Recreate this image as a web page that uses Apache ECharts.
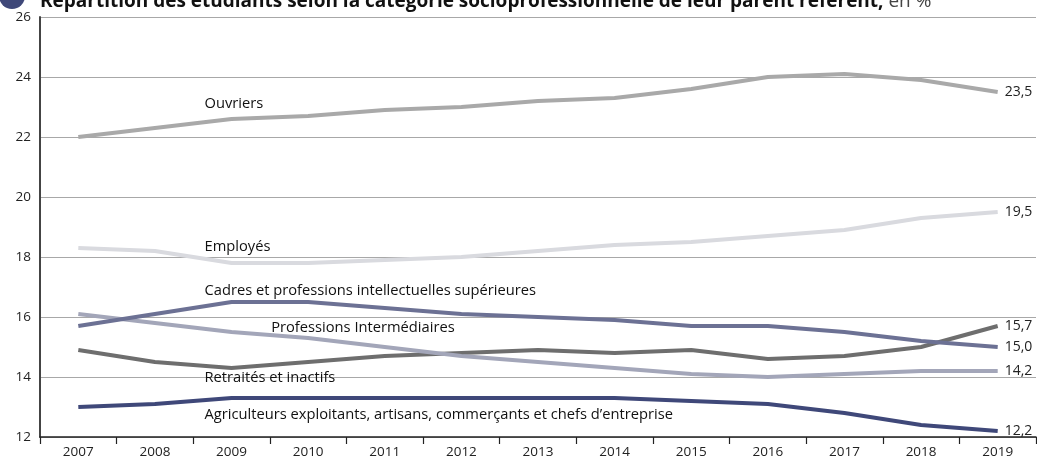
<!DOCTYPE html>
<html><head><meta charset="utf-8">
<script src="https://cdn.jsdelivr.net/npm/echarts@6/dist/echarts.min.js"></script>
<style>html,body{margin:0;padding:0;background:#fff}#c{width:1037px;height:462px}</style>
</head><body><div id="c"></div>
<script>
const years = ['2007','2008','2009','2010','2011','2012','2013','2014','2015','2016','2017','2018','2019'];
const ouvriers      = [22.0,22.3,22.6,22.7,22.9,23.0,23.2,23.3,23.6,24.0,24.1,23.9,23.5];
const employes      = [18.3,18.2,17.8,17.8,17.9,18.0,18.2,18.4,18.5,18.7,18.9,19.3,19.5];
const cadres        = [15.7,16.1,16.5,16.5,16.3,16.1,16.0,15.9,15.7,15.7,15.5,15.2,15.0];
const profInter     = [16.1,15.8,15.5,15.3,15.0,14.7,14.5,14.3,14.1,14.0,14.1,14.2,14.2];
const retraites     = [14.9,14.5,14.3,14.5,14.7,14.8,14.9,14.8,14.9,14.6,14.7,15.0,15.7];
const agriculteurs  = [13.0,13.1,13.3,13.3,13.3,13.3,13.3,13.3,13.2,13.1,12.8,12.4,12.2];
const seriesNames = ['Ouvriers','Employés','Cadres et professions intellectuelles supérieures','Professions Intermédiaires','Retraités et inactifs','Agriculteurs exploitants, artisans, commerçants et chefs d’entreprise'];
const yTicks = [12,14,16,18,20,22,24,26];
const titleText = 'Répartition des étudiants selon la catégorie socioprofessionnelle de leur parent référent,';
const titleUnit = ' en %';
// annotation anchors: [category, value]
const labelAnchors = [['2009',23.1],['2009',18.33],['2009',16.87],['2010',15.64],['2009',13.96],['2009',12.73]];

const FONT = '"Open Sans", sans-serif';
const colors = ['#a9a9a9','#d9dadf','#6c7194','#a3a6b9','#6e6e6e','#3f4879'];
const data = [ouvriers, employes, cadres, profInter, retraites, agriculteurs];

const chart = echarts.init(document.getElementById('c'));
const option = {
  animation:false,
  grid:{left:40,right:1,top:17,bottom:25},
  xAxis:{type:'category',data:years,boundaryGap:true,
    axisLine:{lineStyle:{color:'#222',width:1.5}},
    axisTick:{show:true,length:7,lineStyle:{color:'#222',width:1.2}},
    axisLabel:{color:'#222',fontFamily:FONT,fontSize:13.5,margin:8},
    splitLine:{show:false}},
  yAxis:{type:'value',min:12,max:26,interval:2,
    axisLine:{show:true,lineStyle:{color:'#444',width:2}},
    axisTick:{show:false},
    axisLabel:{color:'#222',fontFamily:FONT,fontSize:13.5,margin:9,
      formatter:v=>yTicks.includes(v)?String(v):''},
    splitLine:{lineStyle:{color:'#a8a8a8',width:1}}},
  series: data.map((d,i)=>({
    type:'line',name:seriesNames[i],data:d,symbol:'none',
    lineStyle:{color:colors[i],width:4},
    z: 10-i,
    endLabel:{show:true,distance:7,color:'#222',fontFamily:FONT,fontSize:14,
      formatter:p=>p.value.toFixed(1).replace('.',',')}
  })),
  graphic:[]
};
chart.setOption(option);

const g = [
  {type:'circle',shape:{cx:12,cy:-4,r:13},style:{fill:'#3f4879'}},
  {type:'text',x:40,y:2,style:{
    text:'{b|'+titleText+'}{n|'+titleUnit+'}',
    verticalAlign:'middle',
    rich:{b:{fontFamily:FONT,fontSize:19,fontWeight:'bold',fill:'#111'},
          n:{fontFamily:FONT,fontSize:19,fill:'#444'}}}}
];
const dx = [-27,-27,-27,-37,-27,-27];
labelAnchors.forEach((a,i)=>{
  const p = chart.convertToPixel({gridIndex:0},[a[0],a[1]]);
  g.push({type:'text',x:p[0]+dx[i],y:p[1],z:100,style:{text:seriesNames[i],
    fontFamily:FONT,fontSize:14.7,fill:'#111',verticalAlign:'middle',align:'left'}});
});
chart.setOption({graphic:g});
</script></body></html>
